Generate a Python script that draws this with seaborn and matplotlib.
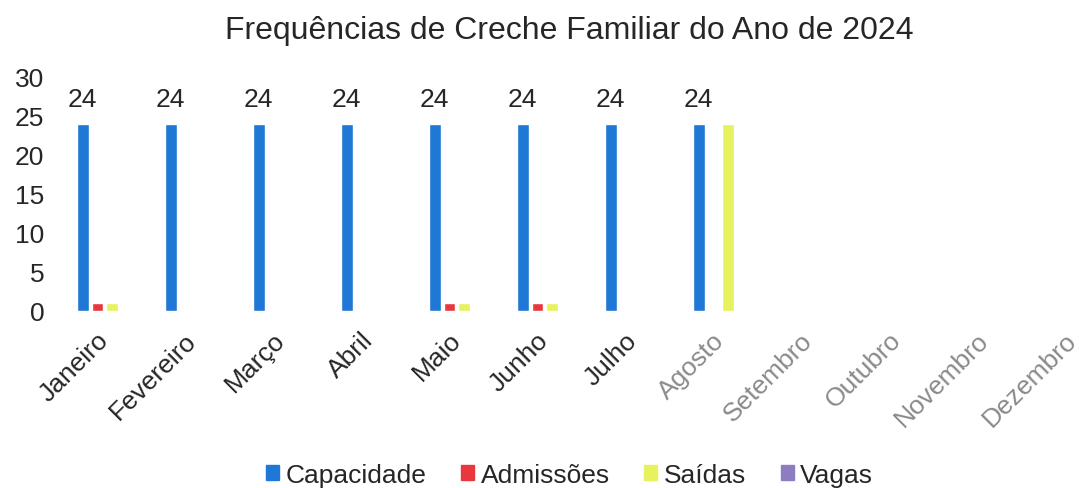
import matplotlib
matplotlib.use("Agg")
import matplotlib.pyplot as plt
import seaborn as sns
import pandas as pd

# Values
months = ['Janeiro', 'Fevereiro', 'Março', 'Abril', 'Maio', 'Junho',
          'Julho', 'Agosto', 'Setembro', 'Outubro', 'Novembro', 'Dezembro']
capacidade = [24, 24, 24, 24, 24, 24, 24, 24, 0, 0, 0, 0]
admissoes = [1, 0, 0, 0, 1, 1, 0, 0, 0, 0, 0, 0]
saidas = [1, 0, 0, 0, 1, 1, 0, 24, 0, 0, 0, 0]
vagas = [0, 0, 0, 0, 0, 0, 0, 0, 0, 0, 0, 0]

series = {'Capacidade': capacidade, 'Admissões': admissoes,
          'Saídas': saidas, 'Vagas': vagas}
colors = ['#1F78D6', '#E8383D', '#E6F25E', '#8E7CC3']

rows = []
for name, vals in series.items():
    for m, v in zip(months, vals):
        rows.append({'Mês': m, 'Série': name, 'Valor': v})
df = pd.DataFrame(rows)

sns.set_style('white')
plt.rcParams['font.family'] = ['Liberation Sans', 'DejaVu Sans']
text_color = '#262626'

fig = plt.figure(figsize=(10.79, 4.89), dpi=100)
ax = fig.add_axes([0.0565, 0.362, 0.9787, 0.4785])

sns.barplot(data=df, x='Mês', y='Valor', hue='Série', order=months,
            hue_order=list(series.keys()), palette=colors, saturation=1,
            width=0.68, gap=0.2, ax=ax, legend=False, errorbar=None)

ax.set_ylim(0, 30)
ax.set_xlim(-0.5, 11.5)
ax.set_yticks(range(0, 31, 5))
ax.set_xlabel('')
ax.set_ylabel('')
sns.despine(ax=ax, left=True, bottom=True)
ax.tick_params(axis='both', length=0, labelsize=19, colors=text_color)
ax.tick_params(axis='y', pad=12)
ax.tick_params(axis='x', pad=18)

label_colors = [text_color] * 7 + ['#8a8a8a'] * 5
for lab, c in zip(ax.get_xticklabels(), label_colors):
    lab.set_rotation(45)
    lab.set_ha('right')
    lab.set_va('center')
    lab.set_rotation_mode('anchor')
    lab.set_color(c)

# Data labels above the Capacidade bars
cap_labels = [str(v) if v else '' for v in capacidade]
ax.bar_label(ax.containers[0], labels=cap_labels, padding=9,
             fontsize=19, color=text_color)

fig.text(0.528, 0.937, 'Frequências de Creche Familiar do Ano de 2024',
         ha='center', va='center', fontsize=23, color=text_color)

handles = [plt.Rectangle((0, 0), 1, 1, color=c) for c in colors]
fig.legend(handles, list(series.keys()), loc='center',
           bbox_to_anchor=(0.528, 0.027), ncol=4, frameon=False,
           fontsize=19, handlelength=0.5, handleheight=0.5,
           handletextpad=0.25, columnspacing=1.3, labelcolor=text_color)

fig.savefig('out.png', dpi=100)
